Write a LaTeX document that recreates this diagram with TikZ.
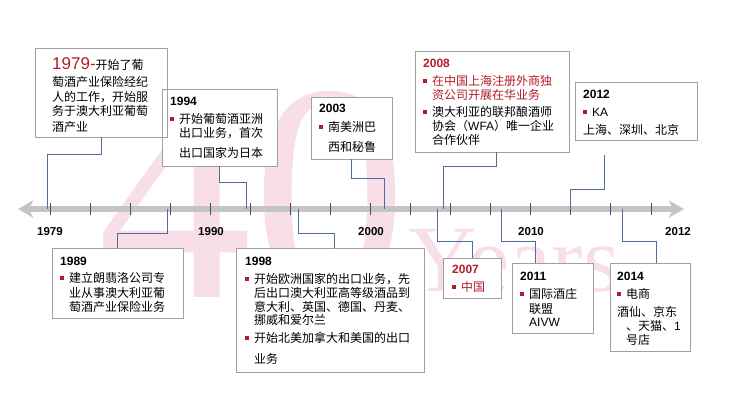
\documentclass[tikz,border=0pt]{standalone}
\usepackage{fontspec}
\usepackage{xcolor}
\usepackage{tikz}
\usetikzlibrary{arrows.meta}
\setmainfont{Liberation Sans}
\newfontfamily\cjk{Noto Sans CJK SC}
\newfontfamily\serifwm{Liberation Serif}
\definecolor{wred}{RGB}{180,28,42}
\definecolor{boxgray}{RGB}{160,160,160}
\definecolor{connblue}{RGB}{80,110,155}
\definecolor{tickblue}{RGB}{70,70,150}
\definecolor{axisgray}{RGB}{196,196,196}
\definecolor{wmpink}{RGB}{248,222,230}
\newcommand{\lat}[1]{{\rmfamily #1}}
\newcommand{\yr}[1]{{\rmfamily\bfseries #1}}
\newcommand{\bul}{\makebox[9pt][l]{\textcolor{wred}{\rule[3pt]{3.5pt}{3.5pt}}}}
\newcommand{\indt}{\hspace*{9pt}}

\begin{document}
\begin{tikzpicture}[x=1pt, y=-1pt,
  evbox/.style={draw=boxgray, line width=0.9pt, fill=white, inner sep=0pt, outer sep=0pt, anchor=north west},
  evtext/.style={anchor=base west, inner sep=0pt, align=left, font=\cjk\fontsize{12}{14}\selectfont},
  conn/.style={draw=connblue, line width=0.9pt},
  axtick/.style={draw=tickblue, line width=1pt},
  axlabel/.style={inner sep=0pt, font=\rmfamily\bfseries\fontsize{11.5}{12}\selectfont},
  wm/.style={text=wmpink, inner sep=0pt, anchor=base west}
]
\useasboundingbox (0,0) rectangle (730,408);

\node[wm, font=\serifwm\fontsize{310}{310}\selectfont] (wm40) at (97,297) {40};
\node[wm, font=\serifwm\fontsize{95}{95}\selectfont] (wmyears) at (408,291) {Years};

\coordinate (axL) at (18,209);
\coordinate (axR) at (684,209);
\draw[line width=6pt, axisgray, {Stealth[length=15pt,width=17pt,inset=4pt]}-{Stealth[length=15pt,width=17pt,inset=4pt]}] (axL) -- (axR);
\foreach \i in {0,...,15}
  \draw[axtick] ({50+40.07*\i},203) -- ++(0,12);

\node[axlabel] (l1979) at (50,232) {1979};
\node[axlabel] (l1990) at (211,232) {1990};
\node[axlabel] (l2000) at (371,232) {2000};
\node[axlabel] (l2010) at (531,232) {2010};
\node[axlabel] (l2012) at (678,232) {2012};

\coordinate (a1979) at (47,209);
\coordinate (a1994) at (246,209);
\coordinate (a2003) at (384,209);
\coordinate (a2008) at (443,209);
\coordinate (a2012) at (570,209);
\coordinate (a1989) at (167,209);
\coordinate (a1998) at (298,209);
\coordinate (a2007) at (437,209);
\coordinate (a2011) at (501,209);
\coordinate (a2014) at (622,209);

\node[evbox, minimum width=115pt, minimum height=77pt] (b1994) at (162,89) {};
\node[evbox, fill=none, minimum width=132pt, minimum height=89pt] (b1979) at (35,48) {};
\node[evbox, minimum width=81pt, minimum height=62pt] (b2003) at (311,97) {};
\node[evbox, minimum width=154pt, minimum height=101pt] (b2008) at (415,51) {};
\node[evbox, minimum width=122pt, minimum height=58pt] (b2012) at (575,82) {};
\node[evbox, minimum width=131pt, minimum height=70pt] (b1989) at (52,248) {};
\node[evbox, minimum width=188pt, minimum height=124pt] (b1998) at (236,248) {};
\node[evbox, minimum width=58pt, minimum height=40pt] (b2007) at (443,258) {};
\node[evbox, minimum width=81pt, minimum height=70pt] (b2011) at (512,263) {};
\node[evbox, minimum width=80pt, minimum height=88pt] (b2014) at (610,263) {};

\draw[conn] (b1979.south) -- ++(0,17) -| (a1979);
\draw[conn] (b1994.south) -- ++(0,16) -| (a1994);
\draw[conn] (b2003.south) -- ++(0,19) -| (a2003);
\draw[conn] ([xshift=4pt]b2008.south) -- ++(0,14) -| (a2008);
\draw[conn] ([xshift=-32pt,yshift=-15pt]b2012.south) -- ++(0,34) -| (a2012);
\draw[conn] (b1989.north) -- ++(0,-15) -| (a1989);
\draw[conn] ([xshift=4pt]b1998.north) -- ++(0,-15) -| (a1998);
\draw[conn] (b2007.north) -- ++(0,-17) -| (a2007);
\draw[conn] ([xshift=-17.5pt]b2011.north) -- ++(0,-22) -| (a2011);
\draw[conn] ([xshift=6pt]b2014.north) -- ++(0,-22) -| (a2014);

\node[evtext, text width=108pt] (t1979) at (52,69) {\textcolor{wred}{\lat{\fontsize{17}{17}\selectfont 1979-}}开始了葡\\[3.5pt]萄酒产业保险经纪\\[1pt]人的工作，开始服\\务于澳大利亚葡萄\\[2pt]酒产业};
\node[evtext, text width=100pt] (t1994) at (170,105.5) {\yr{1994}\\[4pt]\bul 开始葡萄酒亚洲\\\indt 出口业务，首次\\[6pt]\indt 出口国家为日本};
\node[evtext, text width=68pt] (t2003) at (319,112.5) {\yr{2003}\\[5pt]\bul 南美洲巴\\[6pt]\indt 西和秘鲁};
\node[evtext, text width=140pt] (t2008) at (423,67.5) {\color{wred}\yr{2008}\\[4pt]\bul 在中国上海注册外商独\\\indt 资公司开展在华业务\\[3pt]\color{black}\bul 澳大利亚的联邦酿酒师\\\indt 协会（\lat{WFA}）唯一企业\\\indt 合作伙伴};
\node[evtext, text width=108pt] (t2012) at (583,98.5) {\yr{2012}\\[4pt]\bul\lat{KA}\\[4pt]上海、深圳、北京};
\node[evtext, text width=118pt] (t1989) at (60,265.5) {\yr{1989}\\[3pt]\bul 建立朗翡洛公司专\\[1pt]\indt 业从事澳大利亚葡\\\indt 萄酒产业保险业务};
\node[evtext, text width=172pt] (t1998) at (245,265.5) {\yr{1998}\\[4pt]\bul 开始欧洲国家的出口业务，先\\\indt 后出口澳大利亚高等级酒品到\\\indt 意大利、英国、德国、丹麦、\\[-1pt]\indt 挪威和爱尔兰\\[4pt]\bul 开始北美加拿大和美国的出口\\[7pt]\indt 业务};
\node[evtext, text width=44pt] (t2007) at (452,273.5) {\color{wred}\yr{2007}\\[4pt]\bul 中国};
\node[evtext, text width=66pt] (t2011) at (520,280.5) {\yr{2011}\\[4pt]\bul 国际酒庄\\[1pt]\indt 联盟\\[-1pt]\indt\lat{AIVW}};
\node[evtext, text width=68pt] (t2014) at (617,280.5) {\yr{2014}\\[4pt]\bul 电商\\[4pt]酒仙、京东\\\indt 、天猫、\lat{1}\\\indt 号店};

\end{tikzpicture}
\end{document}
